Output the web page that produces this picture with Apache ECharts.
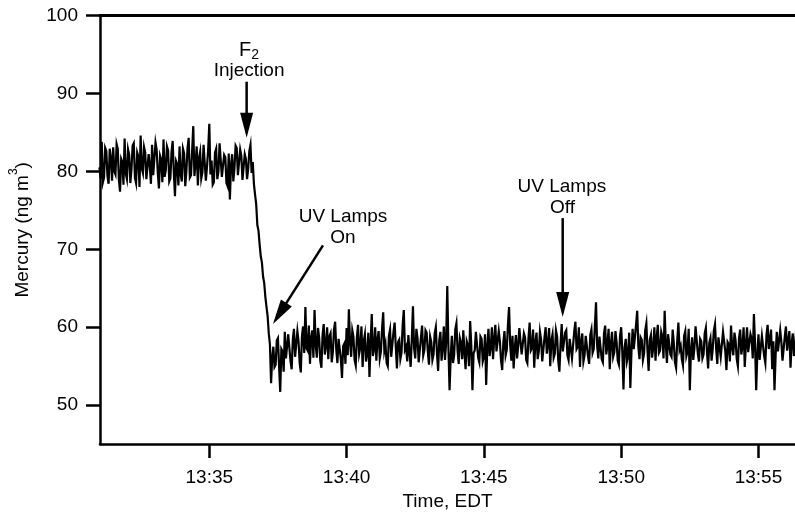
<!DOCTYPE html>
<html><head><meta charset="utf-8">
<script src="https://cdn.jsdelivr.net/npm/echarts@6/dist/echarts.min.js"></script>
<style>html,body{margin:0;padding:0;background:#fff}#c{width:795px;height:516px}</style>
</head><body><div id="c"></div>
<script>
// time in minutes after 13:00, sampled every 2.5 s starting 13:31:00
const startMinute = 31.0;
const stepSeconds = 2.5;

// Mercury (ng m-3) before F2 injection
const mercuryPre = [
  80.5,79.1, 83.8,78.6, 79.2,83.0, 82.6,79.4, 78.4,82.9, 81.7,78.8, 83.1,80.0, 79.6,83.5, 82.9,78.9, 77.4,81.6,
  81.2,78.3, 84.2,79.7, 79.0,82.8, 82.1,78.5, 80.3,83.3, 83.6,79.2, 78.5,82.4, 81.9,78.0, 84.6,80.4, 79.8,83.1,
  82.4,79.0, 78.9,82.2, 80.7,78.4, 83.4,79.5, 79.3,83.7, 82.8,79.8, 77.8,82.0, 81.5,78.6, 84.1,79.3, 80.2,83.2,
  82.7,78.7, 79.1,82.5, 83.9,79.9, 76.8,81.3, 80.9,78.2, 83.2,79.6, 78.7,82.9, 82.3,78.1, 80.1,83.0, 84.3,79.2,
  79.5,82.6, 85.8,79.4, 81.0,83.2, 78.2,81.7, 82.5,79.1, 79.9,83.4, 83.5,78.8, 80.6,82.7, 86.1,79.6, 81.4,78.3,
  78.6,82.4, 82.9,79.0, 80.0,83.6, 83.7,79.3, 79.4,82.1, 81.8,78.5, 78.1,82.3, 76.4,80.9, 82.2,78.7, 80.4,83.3,
  83.0,79.5, 79.7,82.8, 82.0,78.9, 78.8,82.2, 81.6,79.0, 80.3,82.6, 83.4,79.8
];
// decline after injection
const mercuryDrop = [81.2, 78.4, 77.0, 75.8, 73.1, 72.4, 70.6, 69.1, 68.3, 66.5, 65.7, 63.9, 62.6, 61.4, 59.2, 57.8];
// after the decline (UV lamps on, then off)
const mercuryPost = [
  52.8,56.1, 57.5,54.9, 55.2,58.3, 58.6,55.0, 51.7,57.2, 56.9,54.3, 59.4,56.0, 55.8,59.1, 58.9,55.6, 54.6,58.4,
  59.8,56.2, 56.4,59.5, 58.2,55.4, 54.2,58.9, 60.1,56.7, 62.6,57.3, 57.0,60.2, 55.3,58.6, 59.6,56.1, 62.2,57.8,
  56.1,59.9, 58.7,55.7, 54.8,59.0, 60.4,56.5, 57.6,60.0, 55.9,58.8, 59.2,55.5, 56.8,59.7, 60.7,57.1, 55.4,58.5,
  58.3,55.9, 53.5,57.6, 57.9,55.3, 59.9,56.4, 62.3,58.1, 56.2,59.6, 58.8,55.8, 55.1,58.7, 60.3,56.6, 57.4,60.1,
  54.9,58.2, 59.1,55.6, 56.6,59.3, 53.6,57.9, 61.7,56.3, 57.2,60.0, 55.7,58.4, 59.5,56.0, 56.9,59.8, 61.9,57.0,
  57.8,55.4, 55.0,58.9, 59.7,56.2, 56.3,59.4, 60.6,57.5, 54.7,58.1, 58.4,55.9, 56.7,60.2, 62.2,57.1, 57.5,55.6,
  59.0,56.8, 54.9,58.5, 62.7,57.3, 56.0,59.8, 58.6,55.5, 55.6,58.7, 60.2,56.4, 57.1,59.6, 59.3,56.9, 55.2,58.8,
  58.1,55.8, 56.5,59.2, 60.0,56.6, 54.4,58.3, 59.4,55.7, 57.3,60.1, 55.8,58.0, 65.3,57.4, 51.9,56.2, 58.9,55.4,
  56.4,59.7, 60.5,57.0, 55.3,58.6, 58.0,55.9, 59.6,56.8, 54.6,58.2, 57.7,55.0, 60.8,57.6, 51.9,56.7, 57.0,59.4,
  59.2,56.1, 55.5,58.8, 58.5,55.6, 56.2,59.1, 52.6,57.5, 59.8,56.3, 57.4,60.0, 55.9,58.4, 60.3,56.9, 56.8,59.5,
  58.2,55.7, 54.5,58.0, 59.5,56.4, 57.1,60.2, 62.6,57.7, 55.7,58.9, 54.7,57.3, 59.0,56.0, 57.6,59.9, 60.1,56.5,
  56.3,59.2, 58.7,55.8, 55.4,58.6, 60.6,57.0, 57.3,59.7, 54.8,58.1, 59.3,55.9, 56.9,59.4, 58.4,55.6, 55.6,58.7,
  60.0,56.6, 57.8,59.9, 55.0,58.3, 59.1,56.1, 56.6,59.6, 58.8,55.7, 54.3,57.8, 60.4,56.9, 57.0,59.3, 59.6,56.4,
  55.8,58.5, 58.3,56.0, 56.1,59.5, 60.7,57.2, 57.5,60.0, 54.9,58.2, 59.2,55.6, 56.4,58.9, 58.9,56.3, 55.3,59.0,
  59.7,56.7, 57.2,60.1, 63.2,57.6, 56.0,58.8, 58.6,55.9, 55.5,59.2, 60.2,56.5, 57.7,59.8, 54.6,57.9, 59.4,56.2,
  56.8,59.5, 58.1,55.7, 55.2,58.9, 60.0,56.8, 52.0,57.4, 58.5,55.6, 56.3,59.3, 52.2,56.9, 59.8,57.2, 57.1,60.3,
  62.1,57.5, 55.9,58.7, 58.4,55.8, 56.6,59.6, 60.5,57.0, 54.4,58.4, 59.0,56.1, 57.4,60.0, 55.7,58.6, 60.3,56.7,
  57.0,59.4, 58.8,56.0, 62.1,57.8, 55.4,59.1, 59.3,56.5, 56.2,59.7, 58.0,55.5, 54.8,58.3, 60.6,57.1, 57.6,55.9,
  55.1,58.9, 59.5,56.3, 56.9,59.8, 51.9,57.0, 58.7,55.8, 57.3,60.1, 60.1,56.6, 55.6,58.5, 58.2,56.0, 56.5,59.2,
  59.9,56.8, 54.7,58.0, 58.6,55.7, 57.2,59.6, 60.4,57.3, 55.3,58.7, 58.9,56.2, 56.1,59.4, 59.6,56.9, 54.5,58.1,
  57.8,55.6, 60.2,57.4, 56.4,59.3, 58.3,55.9, 55.0,58.6, 59.7,56.5, 57.5,60.0, 54.9,57.7, 60.0,56.8, 56.7,59.1,
  58.5,56.0, 61.7,57.9, 51.9,56.6, 59.1,55.8, 56.0,58.9, 58.8,56.3, 55.4,59.0, 60.3,57.2, 57.3,59.7, 54.6,58.2,
  51.9,56.4, 59.4,56.9, 56.8,59.6, 58.1,55.7, 55.7,58.8, 60.1,57.0, 57.0,59.5, 54.8,58.0, 59.2,56.3, 57.6,59.9, 58.4,56.1
];

const xTickMinutes = [35, 40, 45, 50, 55];
const xTickLabels = ['13:35', '13:40', '13:45', '13:50', '13:55'];
const yTickValues = [50, 60, 70, 80, 90, 100];

// annotation anchors in data units [minute, value]
const annoTexts = [
  {text: '{a|F}{b|2}', at: [36.45, 95.4]},
  {text: 'Injection', at: [36.45, 92.9]},
  {text: 'UV Lamps', at: [39.87, 74.15]},
  {text: 'On', at: [39.87, 71.5]},
  {text: 'UV Lamps', at: [47.84, 78.05]},
  {text: 'Off', at: [47.86, 75.3]}
];
const annoArrows = [
  [[36.36, 91.5], [36.36, 84.3]],
  [[39.14, 70.5], [37.32, 60.4]],
  [[47.87, 74.0], [47.87, 61.3]]
];

const values = mercuryPre.concat(mercuryDrop, mercuryPost);
const seriesData = values.map((v, i) => [startMinute + i * stepSeconds / 60, v]);

const FONT = '"Liberation Sans", Arial, Helvetica, sans-serif';
const xMin = 31.02, xMax = 56.33;

const chart = echarts.init(document.getElementById('c'), null, {renderer: 'canvas'});
chart.setOption({
  animation: false,
  backgroundColor: '#fff',
  grid: {left: 100, right: 0, top: 15.5, bottom: 64},
  xAxis: [{
    type: 'value', min: xMin, max: xMax, position: 'bottom',
    splitLine: {show: false},
    axisLine: {lineStyle: {color: '#000', width: 2.5}},
    axisTick: {show: true, length: 14, lineStyle: {color: '#000', width: 2.5}, customValues: xTickMinutes},
    axisLabel: {
      customValues: xTickMinutes, margin: 24, color: '#000', fontSize: 19, fontFamily: FONT,
      formatter: v => xTickLabels[xTickMinutes.indexOf(Math.round(v))] || ''
    },
    name: 'Time, EDT', nameLocation: 'middle', nameGap: 45,
    nameTextStyle: {color: '#000', fontSize: 19, fontFamily: FONT}
  }, {
    type: 'value', min: xMin, max: xMax, position: 'top',
    splitLine: {show: false},
    axisLine: {show: true, lineStyle: {color: '#000', width: 3}},
    axisTick: {show: false}, axisLabel: {show: false}
  }],
  yAxis: {
    type: 'value', min: 45, max: 100,
    splitLine: {show: false},
    axisLine: {lineStyle: {color: '#000', width: 2.5}},
    axisTick: {show: true, length: 14, lineStyle: {color: '#000', width: 2.5}, customValues: yTickValues},
    axisLabel: {customValues: yTickValues, margin: 22, color: '#000', fontSize: 19, fontFamily: FONT},
    name: '{a|Mercury (ng m}{s|3}{a|)}', nameLocation: 'middle', nameGap: 68, nameRotate: 90,
    nameTextStyle: {
      color: '#000', fontFamily: FONT,
      rich: {
        a: {fontSize: 19, lineHeight: 24, verticalAlign: 'bottom', fontFamily: FONT, color: '#000'},
        s: {fontSize: 12, lineHeight: 24, verticalAlign: 'top', fontFamily: FONT, color: '#000'}
      }
    }
  },
  series: [{
    type: 'line', xAxisIndex: 0, yAxisIndex: 0,
    data: seriesData, showSymbol: false, symbol: 'none', sampling: null,
    lineStyle: {color: '#000', width: 2.2, join: 'miter'}, clip: true
  }]
});

function toPx(p) { return chart.convertToPixel({xAxisIndex: 0, yAxisIndex: 0}, p); }

const graphics = [];
annoTexts.forEach(a => {
  const p = toPx(a.at);
  graphics.push({
    type: 'text', x: p[0], y: p[1], z: 10,
    style: {
      text: a.text, fill: '#000', font: '19px ' + FONT, align: 'center', verticalAlign: 'middle',
      rich: {
        a: {fontSize: 20, fontFamily: FONT, lineHeight: 22, verticalAlign: 'top', fill: '#000'},
        b: {fontSize: 14, fontFamily: FONT, lineHeight: 22, verticalAlign: 'bottom', fill: '#000'}
      }
    }
  });
});
annoArrows.forEach(ar => {
  const p0 = toPx(ar[0]), p1 = toPx(ar[1]);
  const dx = p1[0] - p0[0], dy = p1[1] - p0[1];
  const len = Math.sqrt(dx * dx + dy * dy);
  const ux = dx / len, uy = dy / len, nx = -uy, ny = ux;
  const headLen = 25, headW = 13;
  const bx = p1[0] - ux * headLen, by = p1[1] - uy * headLen;
  graphics.push({
    type: 'line', z: 10,
    shape: {x1: p0[0], y1: p0[1], x2: bx + ux * 2, y2: by + uy * 2},
    style: {stroke: '#000', lineWidth: 2.5}
  });
  graphics.push({
    type: 'polygon', z: 10,
    shape: {points: [[p1[0], p1[1]], [bx + nx * headW / 2, by + ny * headW / 2], [bx - nx * headW / 2, by - ny * headW / 2]]},
    style: {fill: '#000'}
  });
});
chart.setOption({graphic: graphics});
</script>
</body></html>
